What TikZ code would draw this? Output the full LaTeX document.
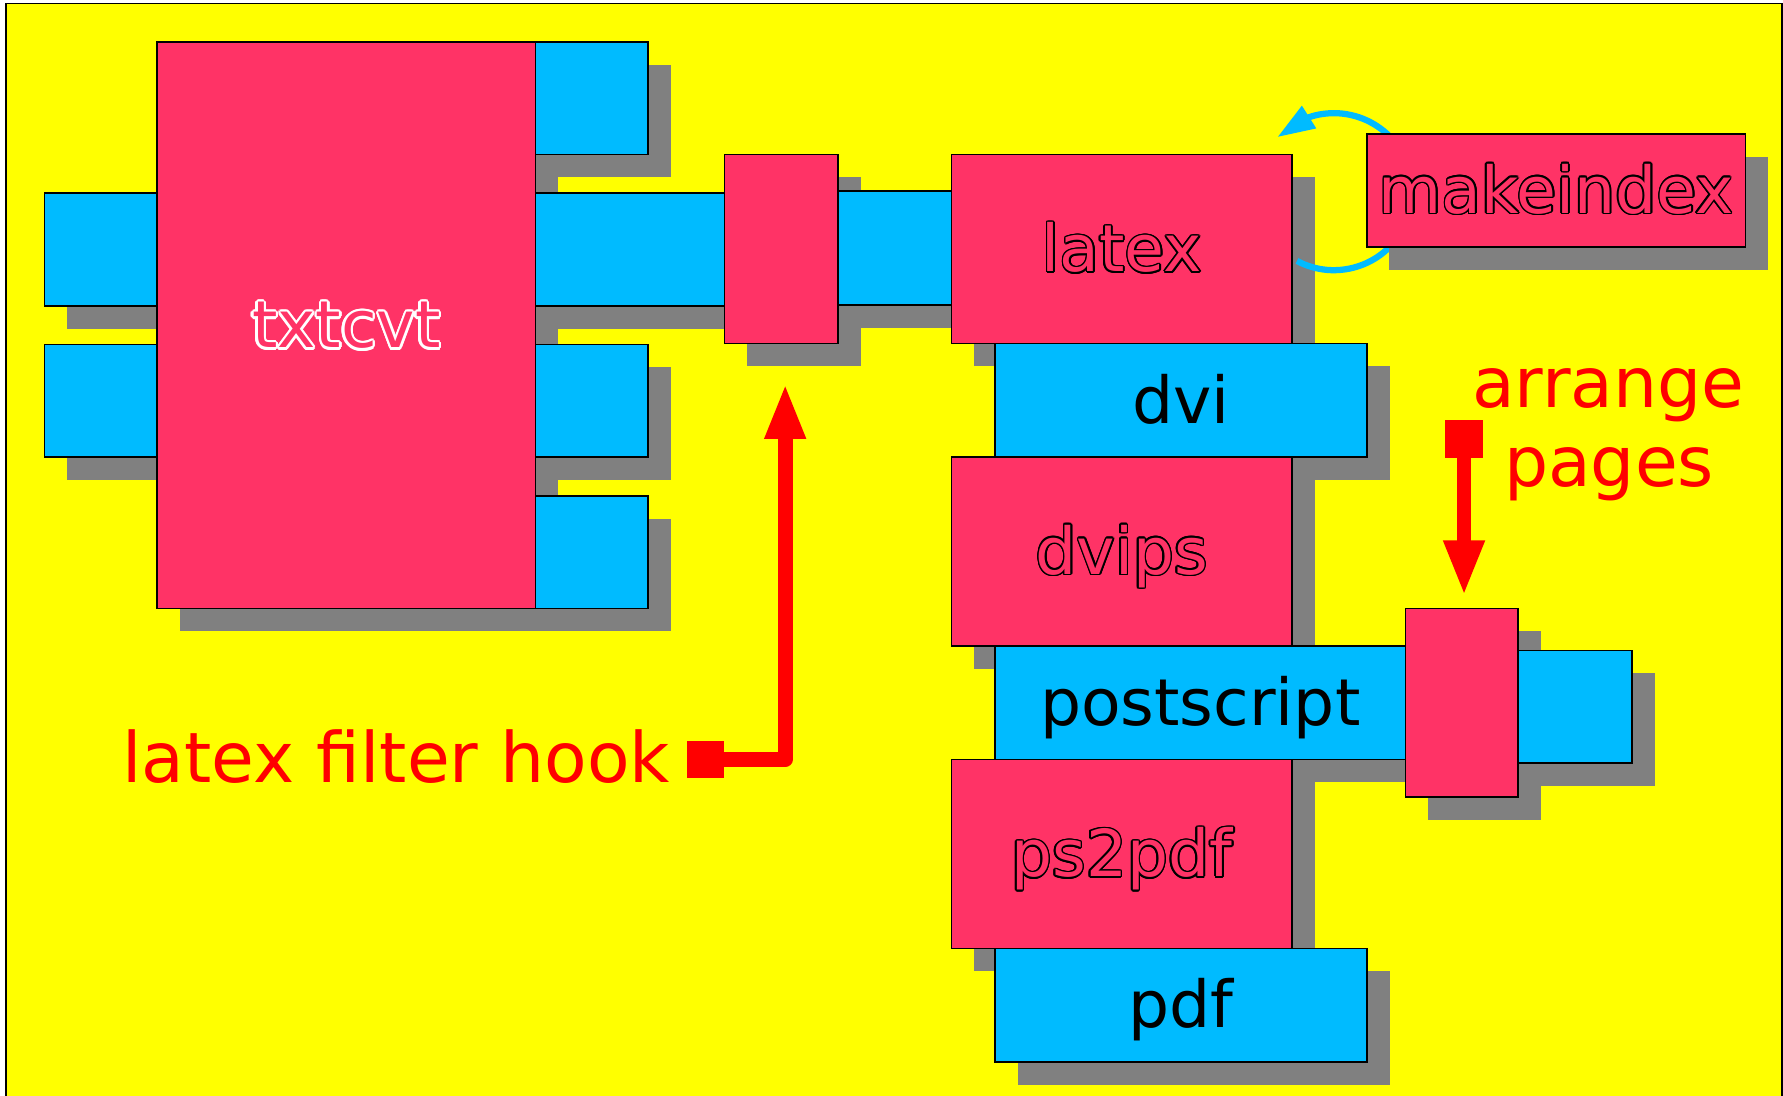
\documentclass[tikz,border=0pt]{standalone}
\usepackage{fontspec}
\setmainfont{DejaVu Sans}
\usepackage{contour}
\usepackage{tikz}
\usetikzlibrary{shapes,arrows.meta,shadows,bending}
\definecolor{boxpink}{HTML}{FF3366}
\definecolor{boxblue}{HTML}{00BBFF}
\definecolor{shadowgray}{HTML}{808080}
\definecolor{bgyellow}{HTML}{FFFF00}
\contourlength{0.4pt}
\newcommand{\hollow}[1]{\contour{black}{\textcolor{boxpink}{#1}}}
\newcommand{\whitehollow}[1]{{\contourlength{0.6pt}\contour{white}{\textcolor{boxpink}{#1}}}}
\tikzstyle{boxshadow} = [drop shadow={shadow xshift=0.2cm,shadow yshift=-0.2cm,fill=shadowgray,opacity=1}]
\tikzstyle{prog} = [draw, fill=boxpink, boxshadow, inner sep=0pt, text height=0.4cm, text depth=0pt, font=\fontsize{16.2pt}{19pt}\selectfont]
\tikzstyle{data} = [draw, fill=boxblue, boxshadow, inner sep=0pt, text height=0.4cm, text depth=0pt, font=\fontsize{16.2pt}{19pt}\selectfont]
\tikzstyle{note} = [text=red, inner sep=0pt, font=\fontsize{17.4pt}{20pt}\selectfont]
\tikzstyle{notemark} = [fill=red, minimum size=0.33cm, inner sep=0pt]
\tikzstyle{notearrow} = [draw=red, line width=0.13cm, line join=round, -{Triangle[length=0.49cm,width=0.33cm]}]
\tikzstyle{loopline} = [draw=boxblue, line width=0.055cm, -{Triangle[length=0.33cm,width=0.22cm,flex]}]

\begin{document}
\begin{tikzpicture}[x=0.01cm,y=-0.01cm]
	\useasboundingbox (0,0) rectangle (1568,963);
	\draw[fill=bgyellow] (5.3,2.9) rectangle (1566.9,990); % background
	\node[data,minimum width=0.99cm,minimum height=0.99cm] (in1) at (88.5,219.5) {};
	\node[data,minimum width=0.99cm,minimum height=0.99cm] (in2) at (88.5,352.5) {};
	\node[prog,minimum width=3.33cm,minimum height=4.98cm] (txtcvt) at (304.5,286) {\whitehollow{txtcvt}};
	\node[data,minimum width=0.99cm,minimum height=0.99cm] (out1) at (520.5,86.5) {};
	\node[data,minimum width=1.66cm,minimum height=0.99cm] (out2) at (554,219.5) {};
	\node[data,minimum width=0.99cm,minimum height=0.99cm] (out3) at (520.5,352.5) {};
	\node[data,minimum width=0.99cm,minimum height=0.99cm] (out4) at (520.5,485.5) {};
	\node[prog,minimum width=1cm,minimum height=1.66cm] (filter) at (687,219) {};
	\node[data,minimum width=1cm,minimum height=1cm] (texin) at (787,218) {};
	\node[prog,minimum width=2.99cm,minimum height=1.66cm] (latex) at (986.5,219) {\hollow{latex}};
	\node[data,minimum width=3.27cm,minimum height=1cm] (dvi) at (1038.5,352) {dvi};
	\node[prog,minimum width=2.99cm,minimum height=1.66cm] (dvips) at (986.5,485) {\hollow{dvips}};
	\node[data,minimum width=3.61cm,minimum height=1cm] (ps) at (1055.5,618) {postscript};
	\node[prog,minimum width=0.99cm,minimum height=1.66cm] (arrange) at (1285.5,618) {};
	\node[data,minimum width=1cm,minimum height=0.99cm] (psout) at (1385,621.5) {};
	\node[prog,minimum width=2.99cm,minimum height=1.66cm] (ps2pdf) at (986.5,751) {\hollow{ps2pdf}};
	\node[data,minimum width=3.27cm,minimum height=1cm] (pdf) at (1038.5,884) {pdf};
	\coordinate (loopstart) at (1140.6,229.5);
	\draw[loopline] (loopstart) arc[start angle=-118,end angle=136,radius=0.69cm];
	\node[prog,minimum width=3.33cm,minimum height=0.99cm] (makeindex) at (1368.5,167.5) {\hollow{makeindex}};
	% notes
	\node[notemark] (hookmark) at (620.5,668) {};
	\coordinate (hooktip) at (690.5,337);
	\draw[notearrow] (hookmark.center) -| (hooktip);
	\node[note,anchor=base east] (hooktext) at (590,688) {latex filter hook};
	\node[notemark] (arrmark) at (1287.5,386) {};
	\draw[notearrow,shorten >=0.1cm] (arrmark.center) -- (arrmark.center |- arrange.north);
	\node[note,anchor=base] (arrtext) at (1414.5,358) {arrange};
	\node[note,anchor=base] (pagetext) at (1415,428) {pages};
\end{tikzpicture}
\end{document}
